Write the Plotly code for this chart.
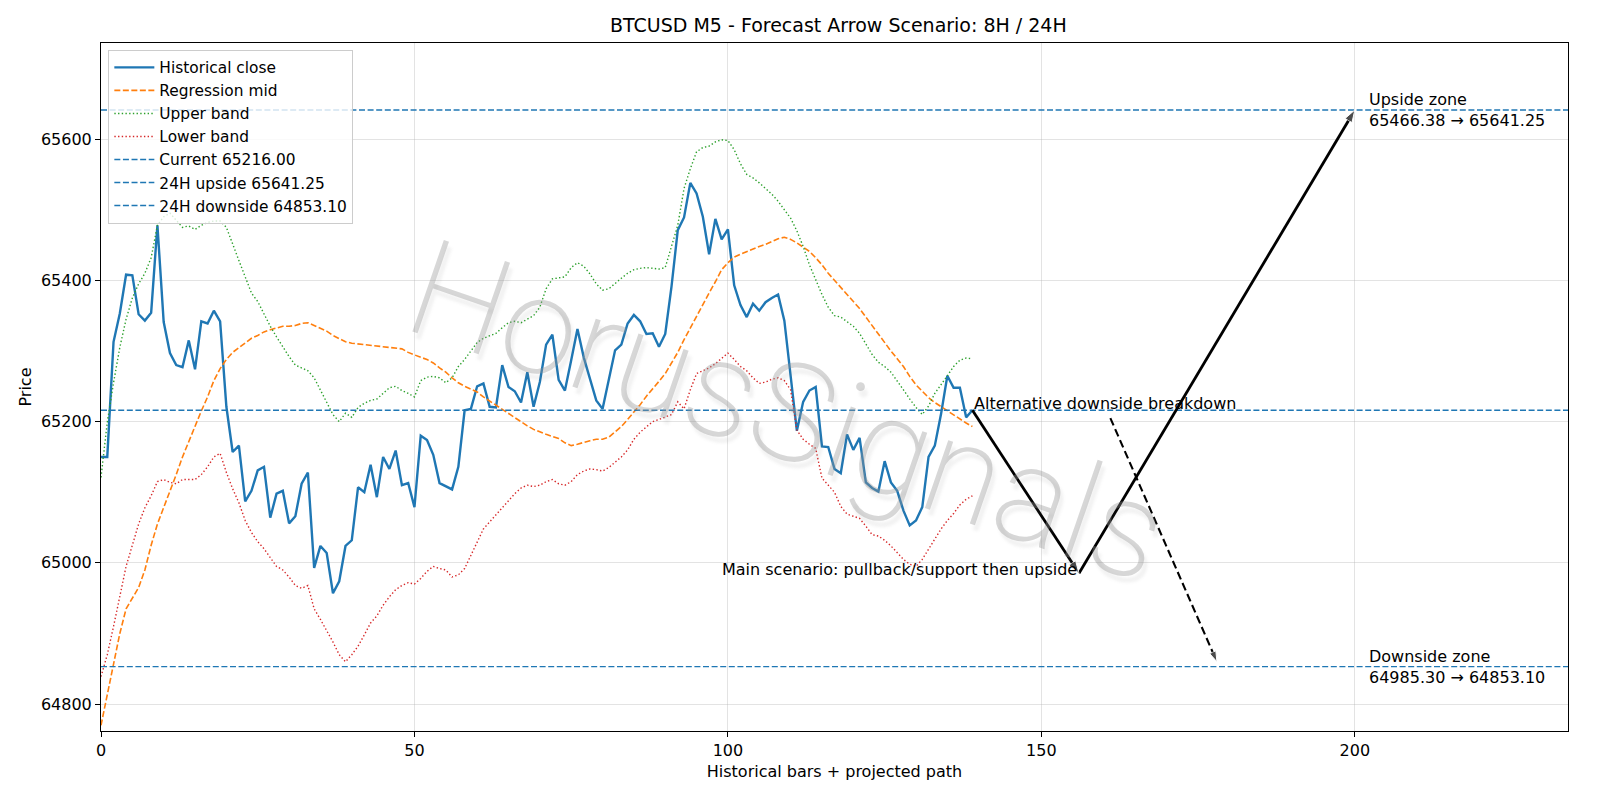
import plotly.graph_objects as go

# ---------------- data ----------------
hist_close = [65150, 65150, 65313, 65353, 65408, 65407, 65352, 65343, 65354, 65478,
              65341, 65297, 65280, 65277, 65315, 65274, 65342, 65339, 65357, 65342,
              65221, 65157, 65166, 65087, 65102, 65131, 65136, 65064, 65098, 65102,
              65056, 65066, 65112, 65128, 64993, 65024, 65014, 64957, 64974, 65024,
              65032, 65107, 65100, 65139, 65093, 65150, 65133, 65159, 65110, 65113,
              65079, 65180, 65174, 65153, 65113, 65109, 65104, 65136, 65216, 65218,
              65250, 65254, 65221, 65220, 65280, 65249, 65243, 65227, 65270, 65221,
              65256, 65309, 65323, 65259, 65244, 65287, 65331, 65291, 65261, 65230,
              65218, 65261, 65301, 65309, 65339, 65351, 65342, 65324, 65325, 65306,
              65324, 65391, 65471, 65489, 65538, 65523, 65490, 65437, 65487, 65458,
              65472, 65393, 65365, 65348, 65367, 65357, 65369, 65375, 65380, 65343,
              65268, 65187, 65228, 65244, 65249, 65165, 65164, 65133, 65127, 65182,
              65160, 65177, 65114, 65106, 65101, 65144, 65114, 65102, 65074, 65053,
              65060, 65079, 65150, 65166, 65211, 65265, 65248, 65248, 65206, 65216]

reg_mid = [64770, 64815, 64860, 64900, 64935, 64950, 64965, 64990, 65025, 65055,
           65078, 65100, 65125, 65150, 65172, 65195, 65215, 65235, 65258, 65275,
           65288, 65298, 65305, 65312, 65318, 65322, 65327, 65330, 65333, 65335,
           65335, 65336, 65339, 65340, 65336, 65332, 65328, 65322, 65317, 65313,
           65311, 65310, 65309, 65308, 65307, 65306, 65306, 65305, 65303, 65298,
           65294, 65291, 65288, 65283, 65276, 65270, 65262, 65255, 65250, 65246,
           65242, 65235, 65229, 65223, 65217, 65211, 65205, 65199, 65194, 65189,
           65185, 65182, 65179, 65176, 65170, 65166, 65168, 65171, 65173, 65175,
           65175, 65178, 65185, 65193, 65203, 65213, 65224, 65236, 65246, 65257,
           65268, 65283, 65298, 65316, 65333, 65350, 65367, 65382, 65398, 65415,
           65425, 65433, 65437, 65441, 65445, 65448, 65451, 65455, 65459, 65461,
           65458, 65453, 65447, 65441, 65432, 65422, 65410, 65400, 65390, 65380,
           65370, 65360, 65348, 65336, 65323, 65312, 65300, 65289, 65278, 65264,
           65252, 65243, 65234, 65227, 65221, 65215, 65209, 65203, 65198, 65193]

upper_band = [65121, 65199, 65255, 65305, 65345, 65375, 65395, 65410, 65432, 65478,
              65490, 65495, 65485, 65475, 65477, 65472, 65478, 65482, 65484, 65484,
              65475, 65450, 65428, 65405, 65382, 65370, 65352, 65335, 65320, 65305,
              65292, 65280, 65276, 65272, 65262, 65245, 65228, 65210, 65200, 65212,
              65206, 65220, 65226, 65230, 65232, 65240, 65248, 65250, 65244, 65240,
              65235, 65258, 65263, 65264, 65262, 65255, 65262, 65278, 65288, 65300,
              65312, 65318, 65322, 65325, 65333, 65340, 65342, 65340, 65345, 65350,
              65362, 65388, 65402, 65404, 65405, 65418, 65425, 65420, 65409, 65395,
              65386, 65388, 65396, 65403, 65410, 65415, 65417, 65418, 65417, 65416,
              65418, 65448, 65478, 65530, 65558, 65582, 65588, 65590, 65596, 65599,
              65598, 65585, 65565, 65550, 65545, 65538, 65530, 65522, 65512, 65500,
              65488, 65470, 65448, 65422, 65400, 65380, 65362, 65350, 65348, 65342,
              65335, 65325, 65310, 65295, 65284, 65278, 65270, 65258, 65245, 65232,
              65220, 65210, 65222, 65240, 65252, 65265, 65278, 65287, 65290, 65289]

lower_band = [64839, 64870, 64910, 64955, 64995, 65025, 65055, 65078, 65095, 65115,
              65118, 65114, 65112, 65118, 65118, 65118, 65125, 65136, 65150, 65155,
              65128, 65105, 65085, 65060, 65043, 65030, 65020, 65008, 64995, 64990,
              64980, 64968, 64964, 64968, 64935, 64920, 64905, 64888, 64870, 64860,
              64870, 64882, 64898, 64915, 64925, 64940, 64952, 64962, 64968, 64972,
              64970, 64978, 64988, 64995, 64992, 64990, 64980, 64983, 64992, 65010,
              65030, 65048, 65058, 65068, 65078, 65088, 65098, 65106, 65110, 65108,
              65110, 65115, 65118, 65112, 65110, 65115, 65125, 65130, 65133, 65132,
              65130, 65135, 65142, 65150, 65160, 65175, 65185, 65193, 65200, 65203,
              65206, 65210, 65228, 65218, 65245, 65268, 65272, 65276, 65282, 65290,
              65297, 65288, 65278, 65272, 65262, 65254, 65256, 65260, 65262, 65258,
              65245, 65188, 65175, 65168, 65162, 65120, 65110, 65100, 65080, 65069,
              65066, 65063, 65052, 65040, 65038, 65032, 65024, 65015, 65005, 64998,
              64995, 65005, 65020, 65035, 65048, 65060, 65070, 65082, 65090, 65095]

current_price = 65216.00
upside_24h = 65641.25
downside_24h = 64853.10
upside_zone = (65466.38, 65641.25)
downside_zone = (64985.30, 64853.10)

# projected paths (bar index, price)
main_path_x = [139, 156, 200]
main_path_y = [65216.00, 64985.30, 65641.25]
alt_path_x = [161, 178]
alt_path_y = [65205, 64860]
zone_label_x = 202

x_range = [0, 234]
y_range = [64762, 65736]
x_ticks = [0, 50, 100, 150, 200]
y_ticks = [64800, 65000, 65200, 65400, 65600]

title_text = "BTCUSD M5 - Forecast Arrow Scenario: 8H / 24H"
xlabel = "Historical bars + projected path"
ylabel = "Price"
watermark = "HorusSignals"

# ---------------- figure ----------------
FONT = "DejaVu Sans"
FS = 16
idx = list(range(len(hist_close)))

fig = go.Figure()
fig.add_trace(go.Scatter(x=idx, y=hist_close, mode="lines", name="Historical close",
                         line=dict(color="#1f77b4", width=2.4)))
fig.add_trace(go.Scatter(x=idx, y=reg_mid, mode="lines", name="Regression mid",
                         line=dict(color="#ff7f0e", width=1.6, dash="6px,2.5px")))
fig.add_trace(go.Scatter(x=idx, y=upper_band, mode="lines", name="Upper band",
                         line=dict(color="#2ca02c", width=1.4, dash="1.4px,2.3px")))
fig.add_trace(go.Scatter(x=idx, y=lower_band, mode="lines", name="Lower band",
                         line=dict(color="#d62728", width=1.4, dash="1.4px,2.3px")))
for val, name in [(current_price, f"Current {current_price:.2f}"),
                  (upside_24h, f"24H upside {upside_24h:.2f}"),
                  (downside_24h, f"24H downside {downside_24h:.2f}")]:
    fig.add_trace(go.Scatter(x=x_range, y=[val, val], mode="lines", name=name,
                             line=dict(color="#1f77b4", width=1.4, dash="6px,2.6px")))

# main scenario arrows
fig.add_trace(go.Scatter(x=main_path_x, y=main_path_y, mode="lines+markers",
                         showlegend=False, hoverinfo="skip",
                         line=dict(color="black", width=2.8),
                         marker=dict(symbol="arrow", size=[0, 13, 13], angleref="previous",
                                     color="black")))
# alternative scenario (dashed)
fig.add_trace(go.Scatter(x=alt_path_x, y=alt_path_y, mode="lines+markers",
                         showlegend=False, hoverinfo="skip",
                         line=dict(color="black", width=2.1, dash="8px,4px"),
                         marker=dict(symbol="arrow", size=[0, 11], angleref="previous",
                                     color="black")))

annots = []
annots.append(dict(x=main_path_x[1], y=main_path_y[1],
                   text="Main scenario: pullback/support then upside",
                   xanchor="right", yanchor="middle", yshift=4, showarrow=False,
                   font=dict(family=FONT, size=FS, color="black")))
annots.append(dict(x=main_path_x[0], y=current_price, text="Alternative downside breakdown",
                   xanchor="left", yanchor="bottom", yshift=-5, showarrow=False,
                   font=dict(family=FONT, size=FS, color="black")))
annots.append(dict(x=zone_label_x, y=upside_24h,
                   text=f"Upside zone<br>{upside_zone[0]:.2f} → {upside_zone[1]:.2f}",
                   xanchor="left", yanchor="middle", align="left", showarrow=False,
                   font=dict(family=FONT, size=FS, color="black")))
annots.append(dict(x=zone_label_x, y=downside_24h,
                   text=f"Downside zone<br>{downside_zone[0]:.2f} → {downside_zone[1]:.2f}",
                   xanchor="left", yanchor="middle", align="left", showarrow=False,
                   font=dict(family=FONT, size=FS, color="black")))
annots.append(dict(x=0.468, y=0.465, xref="paper", yref="paper", text=watermark,
                   textangle=19, showarrow=False,
                   font=dict(family="Roboto", size=136, color="rgba(150,150,150,0.38)",
                             weight=200,
                             shadow="5px 5px 3px rgba(120,120,120,0.25)")))

fig.update_layout(
    width=1600, height=800,
    margin=dict(l=101, r=32, t=43, b=69),
    paper_bgcolor="white", plot_bgcolor="white",
    font=dict(family=FONT, size=FS, color="black"),
    title=dict(text=title_text, x=0.524, xanchor="center", y=0.968, yanchor="middle",
               font=dict(family=FONT, size=19, color="black")),
    showlegend=True,
    legend=dict(x=0.005, y=0.99, xanchor="left", yanchor="top",
                bgcolor="rgba(255,255,255,0.8)", bordercolor="#cccccc", borderwidth=1,
                font=dict(family=FONT, size=15.4), tracegroupgap=0, itemwidth=40),
    annotations=annots,
)
fig.update_xaxes(range=x_range, tickvals=x_ticks, showgrid=True,
                 gridcolor="rgba(176,176,176,0.35)", gridwidth=1,
                 showline=True, linecolor="black", linewidth=1, mirror=True,
                 ticks="outside", ticklen=5, tickcolor="black", zeroline=False,
                 title=dict(text=xlabel, font=dict(family=FONT, size=FS), standoff=6),
                 tickfont=dict(family=FONT, size=FS))
fig.update_yaxes(range=y_range, tickvals=y_ticks, ticktext=[str(v) for v in y_ticks],
                 showgrid=True,
                 gridcolor="rgba(176,176,176,0.35)", gridwidth=1,
                 showline=True, linecolor="black", linewidth=1, mirror=True,
                 ticks="outside", ticklen=5, tickcolor="black", zeroline=False,
                 title=dict(text=ylabel, font=dict(family=FONT, size=FS), standoff=5),
                 tickfont=dict(family=FONT, size=FS))

fig.write_html("out.html")
